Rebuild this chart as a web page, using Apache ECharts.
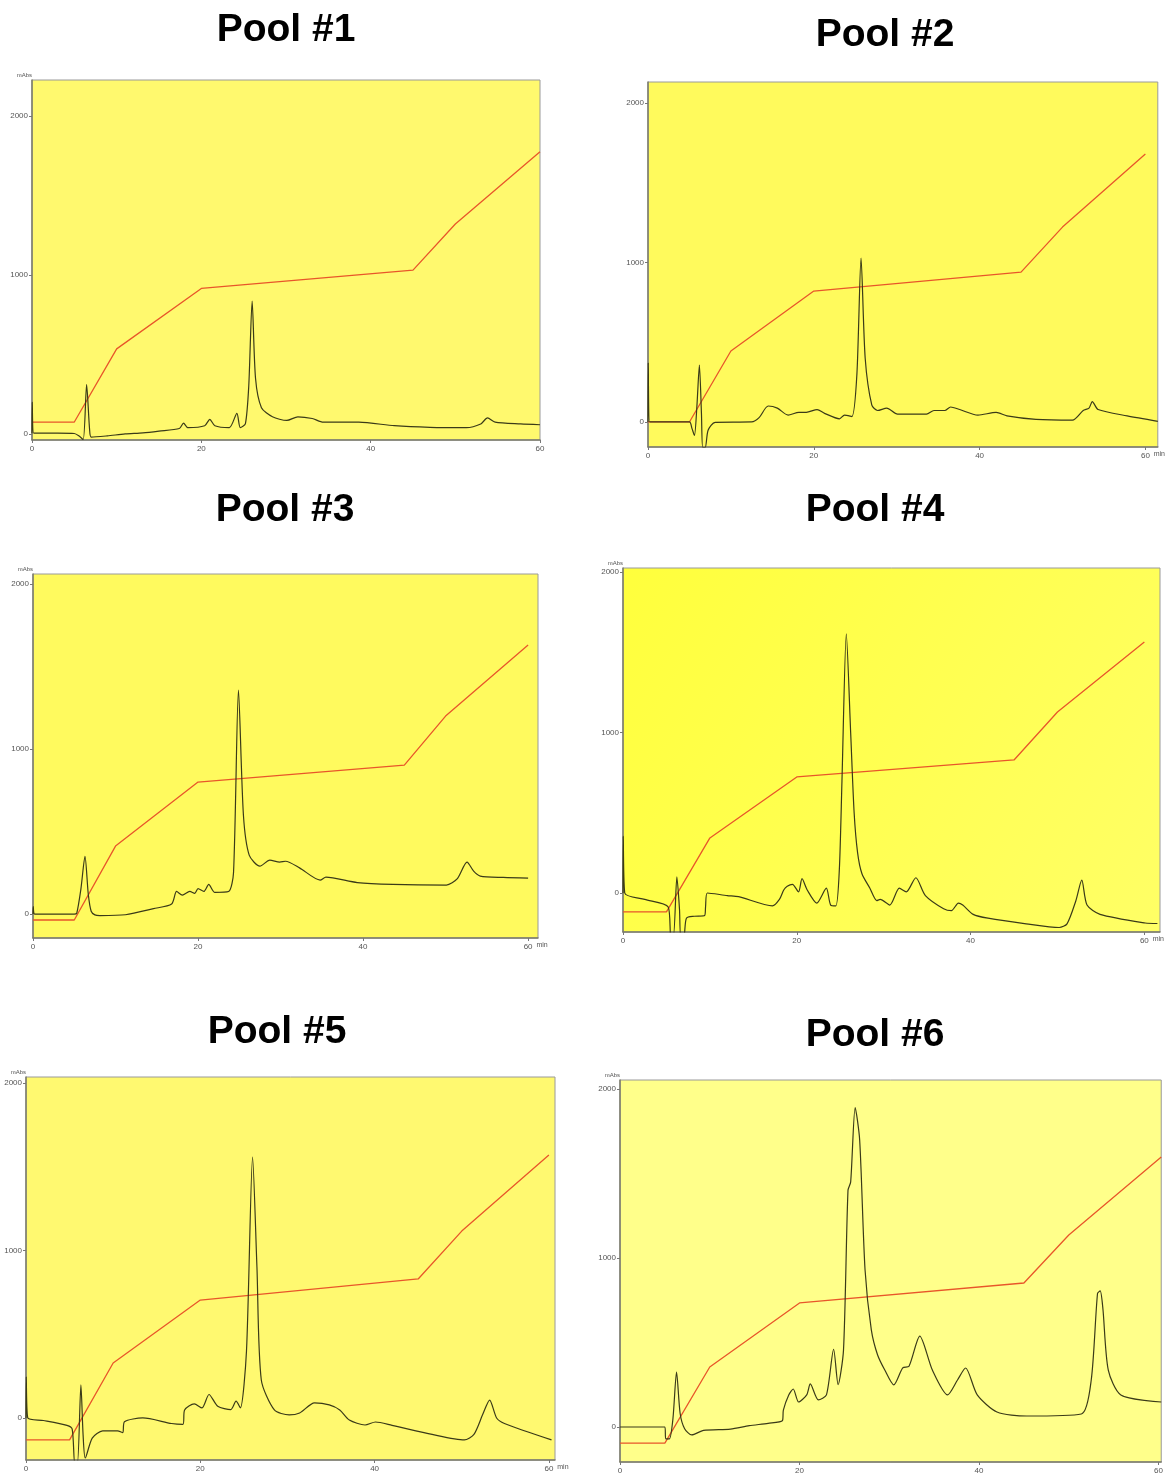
<!DOCTYPE html>
<html>
<head>
<meta charset="utf-8">
<script src="https://cdn.jsdelivr.net/npm/echarts@6/dist/echarts.min.js"></script>
<style>
html,body{margin:0;padding:0;background:#fff;}
#chart{width:1166px;height:1479px;}
</style>
</head>
<body>
<div id="chart"></div>
<script>
// ---- Data (time in min, absorbance in mAbs) ----
const titles = ['Pool #1', 'Pool #2', 'Pool #3', 'Pool #4', 'Pool #5', 'Pool #6'];
const yTickValues = [0, 1000, 2000];
const xTickValues = [0, 20, 40, 60];

const pool1Trace = [[0,5],[0.03,200],[0.2,5],[3,5],[5,3],[5.6,-15],[6.05,-35],[6.45,310],[6.8,30],[7.0,-20],[8.9,-12],[11,0],[13.1,7],[15,18],[17.4,34],[17.9,68],[18.4,40],[20.4,52],[21.0,92],[21.6,52],[23.3,40],[24.2,130],[24.6,40],[25.2,63],[25.6,300],[26.0,836],[26.4,350],[27.1,165],[28.4,108],[30.1,85],[31.4,108],[33.1,97],[34.4,74],[38.6,74],[42.8,52],[47,42],[51.3,40],[53,63],[53.8,101],[54.7,74],[57.7,63],[60,58]];
const pool1Gradient = [[0,75],[5,75],[10,535],[20,915],[45,1030],[50,1320],[60,1775]];

const pool2Trace = [[0,0],[0.03,370],[0.2,0],[5,0],[5.3,-40],[5.6,-85],[5.9,100],[6.2,357],[6.45,50],[6.6,-160],[6.9,-160],[7.25,-52],[8.1,-2],[12.5,0],[13.4,27],[14.5,100],[15.6,87],[16.9,43],[18.2,60],[19.1,60],[20.4,78],[21.3,54],[23.1,20],[23.7,43],[24.6,34],[25.2,300],[25.7,1028],[26.2,400],[27.0,105],[27.7,72],[28.8,87],[30.1,49],[33.6,49],[34.5,72],[35.8,72],[36.5,94],[37.6,78],[39.8,43],[42.0,60],[43.3,38],[46.8,16],[51.2,11],[52.5,72],[53.2,87],[53.6,128],[54.3,78],[57.8,38],[61.5,4]];
const pool2Gradient = [[0,0],[5,0],[10,445],[20,821],[45,940],[50,1222],[60,1680]];

const pool3Trace = [[0,0],[0.03,45],[0.2,0],[5,0],[5.3,5],[5.8,150],[6.3,350],[6.7,120],[7.05,17],[7.5,-5],[8.1,-9],[11.2,-4],[14.6,33],[16.8,61],[17.4,137],[18.1,115],[19,137],[19.6,126],[20,154],[20.7,137],[21.3,180],[22,132],[23.7,137],[24.3,250],[24.9,1358],[25.5,600],[26.2,357],[27.5,290],[28.7,327],[29.9,315],[30.6,320],[32.3,280],[34.8,206],[35.5,224],[39.3,191],[43.6,180],[50.1,176],[51.4,213],[52.6,315],[53.4,260],[54.2,230],[57,222],[60,218]];
const pool3Gradient = [[0,-36],[5,-36],[10,412],[20,800],[45,903],[50,1200],[60,1630]];

const pool4Trace = [[0,0],[0.03,355],[0.2,0],[2.5,-40],[5.2,-87],[5.5,-270],[5.8,-270],[6.2,100],[6.5,-100],[6.65,-270],[7.0,-270],[7.3,-157],[8.2,-145],[9.4,-140],[9.5,-87],[9.7,0],[12,-16],[13.3,-23],[17.2,-80],[18,-40],[18.5,19],[18.9,42],[19.5,54],[20.2,7],[20.6,89],[21.2,19],[22.3,-63],[23.4,30],[23.9,-75],[24.5,-80],[24.9,150],[25.2,700],[25.7,1614],[26.2,1000],[26.6,500],[27.0,250],[27.5,120],[28.4,31],[29.2,-47],[29.6,-40],[30.7,-75],[31.8,30],[32.6,7],[33.7,95],[34.8,-16],[36.9,-98],[37.8,-110],[38.6,-63],[39.1,-75],[40.3,-133],[42,-157],[46.4,-192],[50.2,-215],[51.1,-192],[52.1,-51],[52.8,80],[53.4,-75],[54.9,-133],[60.1,-187],[61.5,-190]];
const pool4Gradient = [[0,-118],[5,-118],[10,343],[20,723],[45,829],[50,1128],[60,1564]];

const pool5Trace = [[0,0],[0.03,245],[0.2,0],[2,-15],[4.7,-44],[5.3,-66],[5.6,-270],[5.9,-270],[6.3,197],[6.55,-100],[6.8,-239],[7.6,-120],[8.8,-77],[10.5,-77],[11.1,-88],[11.3,-23],[13.4,0],[16.7,-33],[18,-38],[18.2,48],[19.3,84],[20.2,60],[21,140],[22,70],[23.5,50],[24.1,100],[24.6,60],[25.3,400],[26.0,1558],[26.5,900],[27,227],[28.5,48],[30.2,18],[31.4,30],[33.1,90],[34.8,78],[36,48],[37.1,-12],[38.9,-42],[40.1,-24],[42,-44],[46.6,-98],[50.3,-131],[51.4,-98],[52.4,20],[53.2,107],[54,0],[54.9,-33],[60.3,-131]];
const pool5Gradient = [[0,-131],[5,-131],[10,328],[20,704],[45,830],[50,1116],[60,1570]];

const pool6Trace = [[0,0],[5,0],[5.1,-70],[5.5,-70],[5.9,50],[6.3,325],[6.7,80],[7.2,-10],[8.0,-47],[9.3,-20],[12.3,-12],[14.4,8],[16.5,22],[18.1,38],[18.2,100],[18.8,190],[19.3,225],[19.9,148],[20.8,190],[21.2,255],[22.1,160],[23,190],[23.8,460],[24.3,250],[24.9,455],[25.4,1400],[25.7,1450],[26.2,1890],[26.7,1700],[27.3,930],[28,575],[28.7,426],[29.5,337],[30.5,249],[31.5,350],[32.2,360],[33.4,538],[34.8,337],[36.5,190],[37.6,278],[38.5,349],[39.8,190],[42,89],[45.3,65],[51.4,77],[52.5,278],[53.2,790],[53.5,805],[53.8,700],[54.4,337],[55.8,190],[60.3,148]];
const pool6Gradient = [[0,-95],[5,-95],[10,355],[20,734],[45,852],[50,1136],[60.3,1597]];

const traces = [pool1Trace, pool2Trace, pool3Trace, pool4Trace, pool5Trace, pool6Trace];
const gradients = [pool1Gradient, pool2Gradient, pool3Gradient, pool4Gradient, pool5Gradient, pool6Gradient];

// ---- Layout (positions / styles) ----
const layout = [
  {left:32, top:80, width:508, height:360, xMax:60, yMin:-38, yMax:2226, bg:'#fff96e', tx:286, ty:30, unit:false, mabs:true},
  {left:648, top:82, width:510, height:365, xMax:61.5, yMin:-157, yMax:2132, bg:'#fffa5c', tx:885, ty:35, unit:true, mabs:false},
  {left:33, top:574, width:505, height:364, xMax:61.2, yMin:-145, yMax:2061, bg:'#fffa5e', tx:285, ty:510, unit:true, mabs:true},
  {left:623, top:568, width:537, height:364, xMax:61.8, yMin:-243, yMax:2025,
    bg:{type:'linear', x:0, y:0, x2:1, y2:1, colorStops:[{offset:0, color:'#ffff3c'}, {offset:1, color:'#ffff66'}]},
    tx:875, ty:510, unit:true, mabs:true},
  {left:26, top:1077, width:529, height:383, xMax:60.7, yMin:-251, yMax:2036, bg:'#fff970', tx:277, ty:1032, unit:true, mabs:true},
  {left:620, top:1080, width:546, height:382, xMax:60.3, yMin:-207, yMax:2053, bg:'#ffff8a', tx:875, ty:1035, unit:false, mabs:true}
];

const labelFont = {fontFamily:'Liberation Sans', fontSize:8, color:'#555'};
const grids = [], xAxes = [], yAxes = [], series = [], graphics = [];

layout.forEach((L, i) => {
  grids.push({left:L.left, top:L.top, width:L.width, height:L.height, show:true,
    backgroundColor:L.bg, borderColor:'#9a9a9a', borderWidth:1, containLabel:false});
  const gap = 5 - L.width * (L.xMax - 60) / L.xMax;
  xAxes.push({type:'value', gridIndex:i, min:0, max:L.xMax,
    name: L.unit ? 'min' : '', nameLocation:'end', nameGap: gap,
    nameTextStyle:{fontFamily:'Liberation Sans', fontSize:7, color:'#555', verticalAlign:'top', align:'left', padding:[4,0,0,0]},
    axisLine:{show:true, onZero:false, lineStyle:{color:'#7a7a6a', width:1.5}},
    axisTick:{show:true, length:3, customValues:xTickValues, lineStyle:{color:'#777'}},
    axisLabel:Object.assign({show:true, margin:5, customValues:xTickValues, formatter:v => String(v)}, labelFont),
    splitLine:{show:false}});
  yAxes.push({type:'value', gridIndex:i, min:L.yMin, max:L.yMax,
    name: L.mabs ? 'mAbs' : '', nameLocation:'end', nameGap:2,
    nameTextStyle:{fontFamily:'Liberation Sans', fontSize:6, color:'#555', align:'right'},
    axisLine:{show:true, onZero:false, lineStyle:{color:'#7a7a6a', width:1.5}},
    axisTick:{show:true, length:3, customValues:yTickValues, lineStyle:{color:'#777'}},
    axisLabel:Object.assign({show:true, margin:4, customValues:yTickValues, formatter:v => String(v)}, labelFont),
    splitLine:{show:false}});
  series.push({type:'line', xAxisIndex:i, yAxisIndex:i, data:gradients[i], symbol:'none',
    lineStyle:{color:'#e8562a', width:1.3}, clip:true, z:2});
  series.push({type:'line', xAxisIndex:i, yAxisIndex:i, data:traces[i], symbol:'none',
    smooth:0.25, lineStyle:{color:'#3a3a18', width:1.2}, clip:true, z:3});
  graphics.push({type:'text', x:L.tx, y:L.ty,
    style:{text:titles[i], font:'bold 39px "Liberation Sans", Arial, sans-serif', fill:'#000',
      textAlign:'center', textVerticalAlign:'middle'}});
});

const chart = echarts.init(document.getElementById('chart'), null, {renderer:'canvas'});
chart.setOption({
  animation:false,
  backgroundColor:'#ffffff',
  grid:grids, xAxis:xAxes, yAxis:yAxes, series:series, graphic:graphics
});
</script>
</body>
</html>
